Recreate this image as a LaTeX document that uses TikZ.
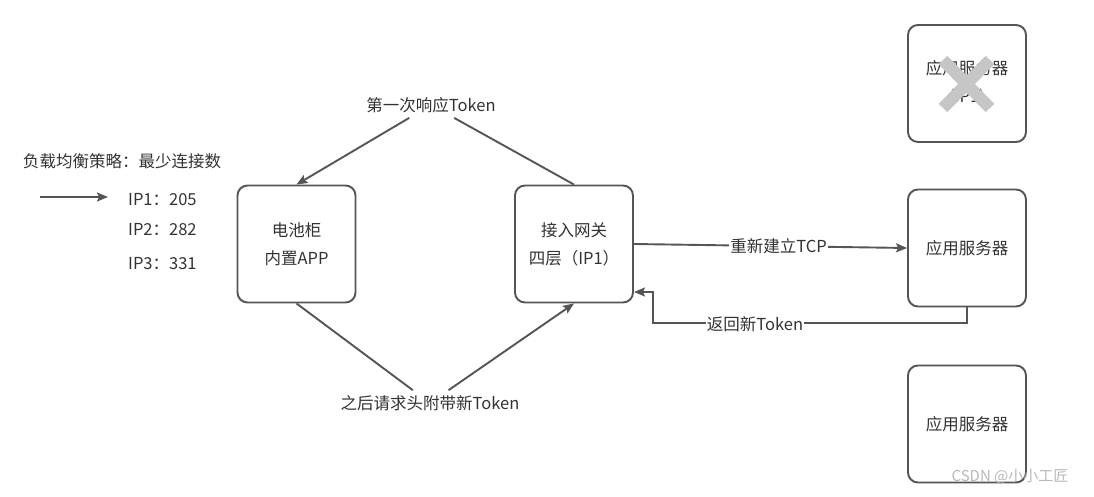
\documentclass[tikz,border=0pt]{standalone}
\usepackage{fontspec}
\setmainfont{Noto Sans CJK SC}
\usetikzlibrary{arrows.meta}
\definecolor{lc}{HTML}{555555}
\definecolor{tc}{HTML}{333333}
\begin{document}
\begin{tikzpicture}[x=1pt,y=-1pt,
 box/.style={draw=lc,line width=1.9pt,rounded corners=10pt,minimum width=118pt,minimum height=117pt,inner sep=0pt,align=center,font=\fontsize{16.5}{28}\selectfont,text=tc},
 conn/.style={draw=lc,line width=1.9pt},
 arr/.style={conn,-{Stealth[length=11pt,width=9pt,inset=2pt]}},
 lbl/.style={font=\fontsize{16.5}{20}\selectfont,text=tc,fill=white,inner xsep=1pt,inner ysep=5pt},
 txt/.style={font=\fontsize{16.5}{20}\selectfont,text=tc,inner sep=0pt}]
\useasboundingbox (0,0) rectangle (1094,497);
\node[box] (bat) at (296.5,244) {电池柜\\内置APP};
\node[box] (gw) at (574,244) {接入网关\\四层（IP1）};
\node[box] (s1) at (967,83.5) {应用服务器\\(IP1)};
\node[box] (s2) at (967,248) {应用服务器};
\node[box] (s3) at (967,424) {应用服务器};
\draw[line width=12pt,color=gray!45] (943,60) -- (990,108) (990,60) -- (943,108);
% first response
\node[lbl] (l1) at (431,105) {第一次响应Token};
\draw[conn] (gw.north) -- (l1);
\draw[arr] (l1) -- (bat.north);
% subsequent requests
\node[lbl] (l2) at (430,403) {之后请求头附带新Token};
\draw[conn] (bat.south) -- (l2);
\draw[arr] (l2) -- (gw.south);
% TCP
\draw[arr] (gw.east) -- node[lbl,pos=0.53] (l3) {重新建立TCP} (s2.west);
% return
\coordinate (rb) at (653,323);
\coordinate (rt) at (653,292);
\draw[arr] (s2.south) |- (rb) -- (rt) -- (gw.east |- rt);
\node[lbl] (l4) at (755,324) {返回新Token};
% legend
\node[txt] (leg) at (122,161) {负载均衡策略：最少连接数};
\coordinate (a1) at (40,197);
\coordinate (a2) at (108,197);
\draw[arr] (a1) -- (a2);
\node[txt,anchor=west] (ip1) at (128,200) {IP1：205};
\node[txt,anchor=west] (ip2) at (128,230) {IP2：282};
\node[txt,anchor=west] (ip3) at (128,264) {IP3：331};
\node[font=\fontsize{15}{18}\selectfont,text=gray!55] (wm) at (1010,477) {CSDN @小小工匠};
\end{tikzpicture}
\end{document}
